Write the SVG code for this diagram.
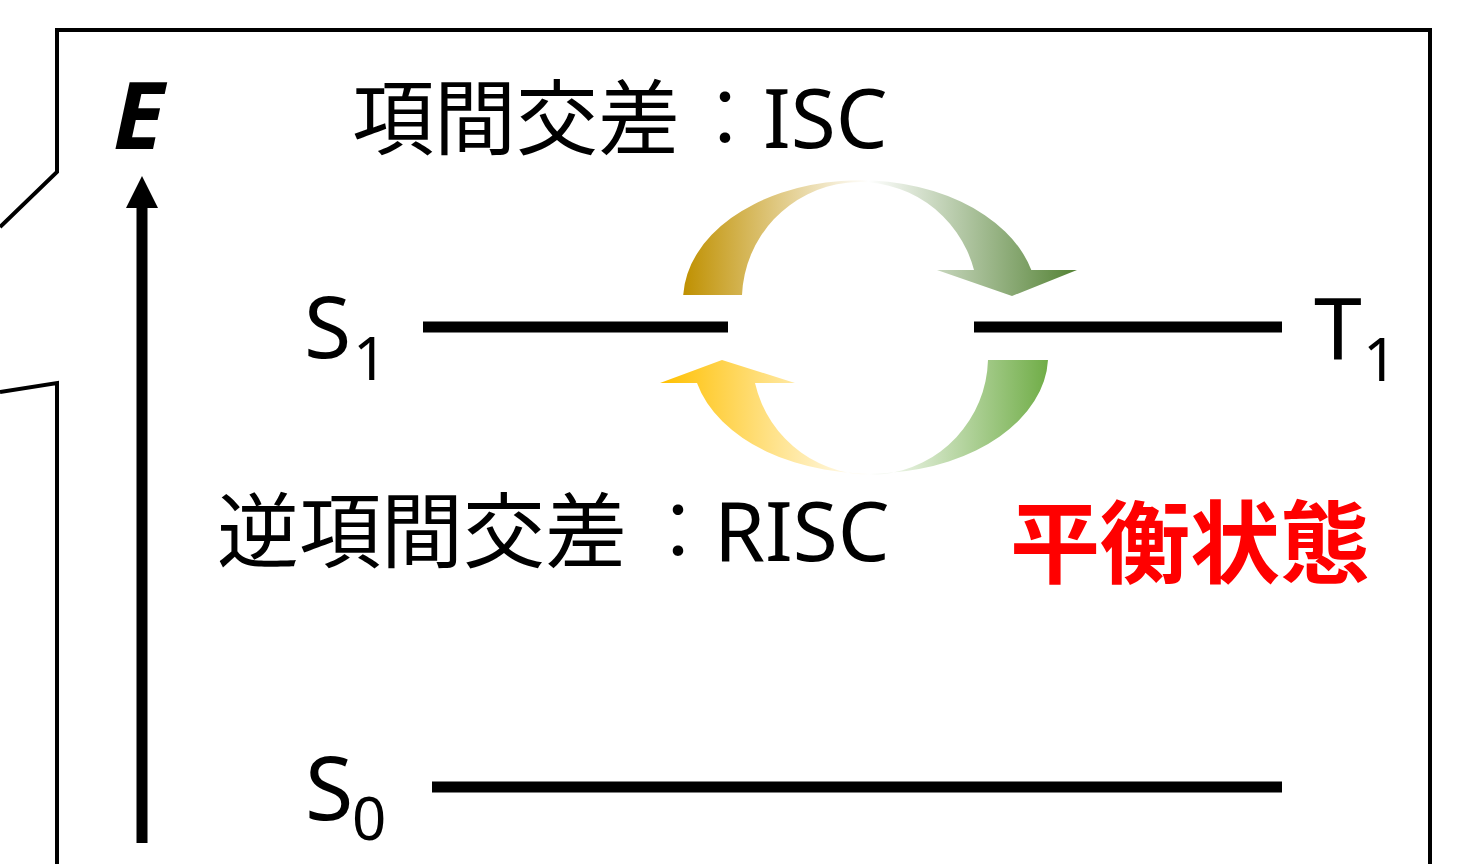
<svg xmlns="http://www.w3.org/2000/svg" width="1463" height="864" viewBox="0 0 1463 864">
<style>
.frame{fill:none;stroke:#000;stroke-width:4;stroke-linejoin:miter}
.level{stroke:#000;stroke-width:11;stroke-linecap:butt}
.lbl{font-family:"Noto Sans","Noto Sans CJK JP",sans-serif;fill:#000}
.jp{font-family:"Noto Sans","Noto Sans CJK JP",sans-serif;font-size:82px;fill:#000}
.colon{font-weight:300}
</style>
<defs>
<linearGradient id="gTop" gradientUnits="userSpaceOnUse" x1="683" y1="0" x2="1077" y2="0">
<stop offset="0" stop-color="#BF9000"/>
<stop offset="0.47" stop-color="#FFFFFF"/>
<stop offset="1" stop-color="#548235"/>
</linearGradient>
<linearGradient id="gBot" gradientUnits="userSpaceOnUse" x1="660" y1="0" x2="1048" y2="0">
<stop offset="0" stop-color="#FFC000"/>
<stop offset="0.54" stop-color="#FFFFFF"/>
<stop offset="1" stop-color="#70AD47"/>
</linearGradient>
</defs>
<rect width="1463" height="864" fill="#fff"/>
<g id="frame">
<path class="frame" d="M0,227 L57,172 L57,30 L1430,30 L1430,870"/>
<path class="frame" d="M0,392 L57,383 L57,870"/>
</g>
<g id="axis">
<line x1="142" y1="843" x2="142" y2="205" stroke="#000" stroke-width="11"/>
<polygon points="142,176 158,208 126,208" fill="#000"/>
<text x="113" y="149" font-family="Noto Sans, sans-serif" font-size="94" font-weight="bold" font-style="italic" fill="#000">E</text>
</g>
<g id="S1">
<line class="level" x1="423" y1="327" x2="728" y2="327"/>
<text class="lbl" x="304" y="358" font-size="86">S</text>
<text class="lbl" x="353" y="380" font-size="60">1</text>
</g>
<g id="T1">
<line class="level" x1="974" y1="327" x2="1282" y2="327"/>
<text class="lbl" x="1314" y="360" font-size="86">T</text>
<text class="lbl" x="1363" y="381" font-size="60">1</text>
</g>
<g id="S0">
<line class="level" x1="432" y1="787" x2="1282" y2="787"/>
<text class="lbl" x="305" y="820" font-size="88">S</text>
<text class="lbl" x="352" y="840" font-size="60">0</text>
</g>
<g id="connectors">
<path id="isc-arrow" fill="url(#gTop)" d="M683.2,295 A177,120 0 0 1 1031.3,270 L1077,270 L1012,296 L937,270 L974,270 A118,118 0 0 0 742,295 Z"/>
<path id="risc-arrow" fill="url(#gBot)" d="M1048,360 A178,118 0 0 1 697,383 L660,383 L722,360 L795,383 L755,383 A118,118 0 0 0 988,360 Z"/>
</g>
<g id="label-isc">
<text class="jp" y="148"><tspan x="352">項間交差</tspan><tspan class="colon" x="684">：</tspan><tspan x="763">ISC</tspan></text>
</g>
<g id="label-risc">
<text class="jp" y="561"><tspan x="217">逆項間交差</tspan><tspan class="colon" x="637">：</tspan><tspan x="714">RISC</tspan></text>
</g>
<g id="label-eq">
<text x="1010" y="576" font-family="Noto Sans CJK JP, sans-serif" font-size="90" font-weight="bold" fill="#FF0000">平衡状態</text>
</g>
</svg>
